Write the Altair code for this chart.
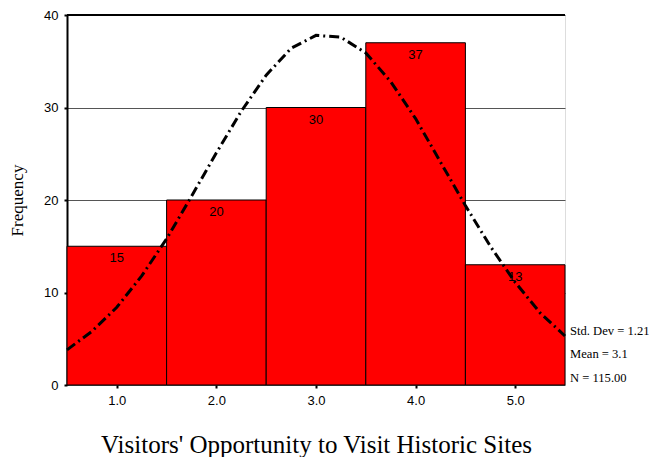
import altair as alt
import pandas as pd

# Histogram bins (midpoints) and frequencies
bin_mid = [1.0, 2.0, 3.0, 4.0, 5.0]
freq = [15, 20, 30, 37, 13]

# Normal curve
curve_x = [0.5, 0.75, 1.0, 1.25, 1.5, 1.75, 2.0, 2.25, 2.5, 2.75, 3.0,
           3.25, 3.5, 3.75, 4.0, 4.25, 4.5, 4.75, 5.0, 5.25, 5.5]
curve_y = [3.8, 5.8, 8.4, 11.8, 15.8, 20.4, 25.1, 29.6, 33.5, 36.4, 37.8,
           37.6, 35.9, 32.8, 28.8, 24.1, 19.4, 15.0, 11.1, 7.8, 5.3]

stats_lines = ["Std. Dev = 1.21", "Mean = 3.1", "N = 115.00"]
stats_y = [5.8, 3.3, 0.8]

bars = pd.DataFrame({"mid": bin_mid, "freq": freq})
bars["lo"] = bars["mid"] - 0.5
bars["hi"] = bars["mid"] + 0.5
curve = pd.DataFrame({"x": curve_x, "y": curve_y})
stats = pd.DataFrame({"t": stats_lines, "y": stats_y})

xscale = alt.Scale(domain=[0.5, 5.5], nice=False, zero=False)
yscale = alt.Scale(domain=[0, 40], nice=False)

xaxis = alt.Axis(values=bin_mid, format=".1f", title="Visitors' Opportunity to Visit Historic Sites",
                 titleFont="Liberation Serif", titleFontSize=25, titleFontWeight="normal",
                 titleColor="black", titlePadding=25,
                 labelFont="Liberation Sans", labelFontSize=13, labelColor="black",
                 labelPadding=6, domain=False, ticks=True, tickSize=3, tickColor="black",
                 tickWidth=2, grid=False)
yaxis = alt.Axis(values=[0, 10, 20, 30, 40], title="Frequency",
                 titleFont="Liberation Serif", titleFontSize=17, titleFontWeight="normal",
                 titleColor="black", titlePadding=17,
                 labelFont="Liberation Sans", labelFontSize=13, labelColor="black",
                 labelPadding=6, domain=True, domainColor="black", domainWidth=2,
                 ticks=True, tickSize=3, tickColor="black", tickWidth=2,
                 grid=True, gridColor="#555555", gridWidth=1)

base_bars = alt.Chart(bars)

rects = base_bars.mark_rect(color="#ff0000", stroke="black", strokeWidth=1).encode(
    x=alt.X("lo:Q", scale=xscale, axis=xaxis),
    x2="hi:Q",
    y=alt.Y("freq:Q", scale=yscale, axis=yaxis),
    y2=alt.datum(0),
)

labels = base_bars.mark_text(font="Liberation Sans", fontSize=13, color="black",
                             baseline="top", dy=6).encode(
    x=alt.X("mid:Q", scale=xscale),
    y=alt.Y("freq:Q", scale=yscale),
    text="freq:Q",
)

line = alt.Chart(curve).mark_line(color="black", strokeWidth=3,
                                  strokeDash=[10, 4, 2, 4]).encode(
    x=alt.X("x:Q", scale=xscale),
    y=alt.Y("y:Q", scale=yscale),
)

top_rule = alt.Chart(bars).mark_rule(color="black", strokeWidth=2).encode(
    y=alt.datum(40), x=alt.value(0), x2=alt.value(498)
)

stats_text = alt.Chart(stats).mark_text(font="Liberation Serif", fontSize=12.6, color="black",
                                        align="left", baseline="middle").encode(
    x=alt.value(503),
    y=alt.Y("y:Q", scale=yscale),
    text="t:N",
)

chart = alt.layer(rects, labels, line, top_rule, stats_text).properties(
    width=498, height=370,
    autosize=alt.AutoSizeParams(type="none"),
    padding={"left": 59, "top": 7, "right": 84, "bottom": 72},
).configure_view(stroke="#444444", strokeWidth=1).configure(background="white")

chart.save("out.html", embed_options={"renderer": "svg", "actions": False})
